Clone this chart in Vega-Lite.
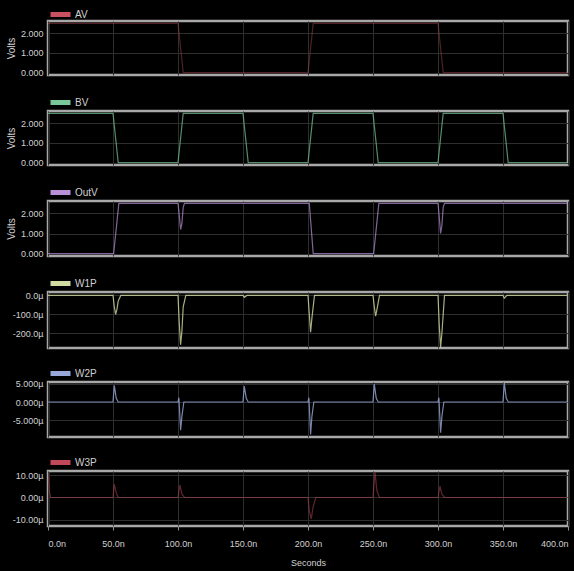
{
  "$schema": "https://vega.github.io/schema/vega-lite/v6.json",
  "background": "black",
  "padding": {"left": 5, "top": 0, "right": 5, "bottom": 4},
  "datasets": {
    "sig": [
      {"sig":"AV","t":0,"v":2.5},{"sig":"AV","t":100,"v":2.5},{"sig":"AV","t":104,"v":0},{"sig":"AV","t":200,"v":0},{"sig":"AV","t":204,"v":2.5},{"sig":"AV","t":300,"v":2.5},{"sig":"AV","t":304,"v":0},{"sig":"AV","t":400,"v":0},
      {"sig":"BV","t":0,"v":2.5},{"sig":"BV","t":50,"v":2.5},{"sig":"BV","t":54,"v":0},{"sig":"BV","t":100,"v":0},{"sig":"BV","t":104,"v":2.5},{"sig":"BV","t":150,"v":2.5},{"sig":"BV","t":154,"v":0},{"sig":"BV","t":200,"v":0},{"sig":"BV","t":204,"v":2.5},{"sig":"BV","t":250,"v":2.5},{"sig":"BV","t":254,"v":0},{"sig":"BV","t":300,"v":0},{"sig":"BV","t":304,"v":2.5},{"sig":"BV","t":350,"v":2.5},{"sig":"BV","t":354,"v":0},{"sig":"BV","t":400,"v":0},
      {"sig":"OutV","t":0,"v":0},{"sig":"OutV","t":50.5,"v":0},{"sig":"OutV","t":54.5,"v":2.5},{"sig":"OutV","t":100,"v":2.5},{"sig":"OutV","t":101,"v":1.9},{"sig":"OutV","t":102,"v":1.2},{"sig":"OutV","t":103,"v":1.5},{"sig":"OutV","t":104,"v":2.3},{"sig":"OutV","t":105,"v":2.5},{"sig":"OutV","t":201,"v":2.5},{"sig":"OutV","t":204,"v":0},{"sig":"OutV","t":250.5,"v":0},{"sig":"OutV","t":254.5,"v":2.5},{"sig":"OutV","t":300,"v":2.5},{"sig":"OutV","t":301,"v":1.8},{"sig":"OutV","t":302,"v":1.0},{"sig":"OutV","t":303,"v":1.4},{"sig":"OutV","t":304,"v":2.3},{"sig":"OutV","t":305,"v":2.5},{"sig":"OutV","t":400,"v":2.5},
      {"sig":"W1P","t":0,"v":0},{"sig":"W1P","t":50,"v":0},{"sig":"W1P","t":51,"v":-60},{"sig":"W1P","t":52,"v":-100},{"sig":"W1P","t":53,"v":-75},{"sig":"W1P","t":54,"v":-30},{"sig":"W1P","t":56,"v":0},{"sig":"W1P","t":100,"v":0},{"sig":"W1P","t":101,"v":-150},{"sig":"W1P","t":102,"v":-260},{"sig":"W1P","t":103,"v":-190},{"sig":"W1P","t":104,"v":-60},{"sig":"W1P","t":106,"v":0},{"sig":"W1P","t":150,"v":0},{"sig":"W1P","t":151,"v":-10},{"sig":"W1P","t":153,"v":0},{"sig":"W1P","t":200,"v":0},{"sig":"W1P","t":201,"v":-100},{"sig":"W1P","t":202,"v":-195},{"sig":"W1P","t":203,"v":-120},{"sig":"W1P","t":205,"v":0},{"sig":"W1P","t":250,"v":0},{"sig":"W1P","t":251,"v":-60},{"sig":"W1P","t":252,"v":-110},{"sig":"W1P","t":253,"v":-75},{"sig":"W1P","t":255,"v":0},{"sig":"W1P","t":300,"v":0},{"sig":"W1P","t":301,"v":-160},{"sig":"W1P","t":302,"v":-275},{"sig":"W1P","t":303,"v":-200},{"sig":"W1P","t":305,"v":0},{"sig":"W1P","t":350,"v":0},{"sig":"W1P","t":351,"v":-15},{"sig":"W1P","t":353,"v":0},{"sig":"W1P","t":400,"v":0},
      {"sig":"W2P","t":0,"v":0},{"sig":"W2P","t":50,"v":0},{"sig":"W2P","t":51,"v":4.6},{"sig":"W2P","t":52.5,"v":1},{"sig":"W2P","t":54,"v":0},{"sig":"W2P","t":100,"v":0},{"sig":"W2P","t":100.7,"v":1.2},{"sig":"W2P","t":102,"v":-7.8},{"sig":"W2P","t":103,"v":-4},{"sig":"W2P","t":104.5,"v":0},{"sig":"W2P","t":150,"v":0},{"sig":"W2P","t":151,"v":4.4},{"sig":"W2P","t":152.5,"v":1},{"sig":"W2P","t":154,"v":0},{"sig":"W2P","t":200,"v":0},{"sig":"W2P","t":200.7,"v":1.2},{"sig":"W2P","t":202,"v":-9},{"sig":"W2P","t":203,"v":-4},{"sig":"W2P","t":204.5,"v":0},{"sig":"W2P","t":250,"v":0},{"sig":"W2P","t":251,"v":5},{"sig":"W2P","t":252.5,"v":1},{"sig":"W2P","t":254,"v":0},{"sig":"W2P","t":300,"v":0},{"sig":"W2P","t":300.7,"v":1.2},{"sig":"W2P","t":302,"v":-8.5},{"sig":"W2P","t":303,"v":-4},{"sig":"W2P","t":304.5,"v":0},{"sig":"W2P","t":350,"v":0},{"sig":"W2P","t":351,"v":5.3},{"sig":"W2P","t":352.5,"v":1},{"sig":"W2P","t":354,"v":0},{"sig":"W2P","t":400,"v":0},
      {"sig":"W3P","t":0,"v":11},{"sig":"W3P","t":1,"v":3},{"sig":"W3P","t":2,"v":0},{"sig":"W3P","t":50,"v":0},{"sig":"W3P","t":51,"v":6},{"sig":"W3P","t":52.5,"v":2},{"sig":"W3P","t":54,"v":0},{"sig":"W3P","t":100,"v":0},{"sig":"W3P","t":101.5,"v":5.5},{"sig":"W3P","t":103,"v":1.5},{"sig":"W3P","t":105,"v":0},{"sig":"W3P","t":200,"v":0},{"sig":"W3P","t":201,"v":-6},{"sig":"W3P","t":202.5,"v":-9.5},{"sig":"W3P","t":204,"v":-4},{"sig":"W3P","t":206,"v":0},{"sig":"W3P","t":250,"v":0},{"sig":"W3P","t":251.5,"v":11.5},{"sig":"W3P","t":253,"v":3},{"sig":"W3P","t":255,"v":0},{"sig":"W3P","t":300,"v":0},{"sig":"W3P","t":301.5,"v":5},{"sig":"W3P","t":303,"v":1.5},{"sig":"W3P","t":305,"v":0},{"sig":"W3P","t":400,"v":0}
    ]
  },
  "data": {"name": "sig"},
  "resolve": {"scale": {"color": "independent", "y": "independent", "x": "independent"}, "legend": {"color": "independent"}},
  "vconcat": [
    {
      "width": 520, "height": 54,
      "transform": [{"filter": "datum.sig === 'AV'"}],
      "mark": {"type": "line", "strokeWidth": 1.2, "opacity": 0.4, "clip": true},
      "encoding": {
        "x": {"field": "t", "type": "quantitative", "scale": {"domain": [0, 400], "nice": false}, "axis": {"values": [0,50,100,150,200,250,300,350,400], "labels": false, "title": null}},
        "y": {"field": "v", "type": "quantitative", "scale": {"domain": [-0.12, 2.62], "nice": false, "zero": false}, "axis": {"values": [0,1,2], "labelExpr": "format(datum.value,'.3f')", "title": "Volts"}},
        "color": {"field": "sig", "type": "nominal", "scale": {"domain": ["AV"], "range": ["#c85060"]}, "legend": {"title": null, "offset": -4}}
      }
    },
    {
      "width": 520, "height": 54,
      "transform": [{"filter": "datum.sig === 'BV'"}],
      "mark": {"type": "line", "strokeWidth": 1.2, "opacity": 0.7, "clip": true},
      "encoding": {
        "x": {"field": "t", "type": "quantitative", "scale": {"domain": [0, 400], "nice": false}, "axis": {"values": [0,50,100,150,200,250,300,350,400], "labels": false, "title": null}},
        "y": {"field": "v", "type": "quantitative", "scale": {"domain": [-0.12, 2.62], "nice": false, "zero": false}, "axis": {"values": [0,1,2], "labelExpr": "format(datum.value,'.3f')", "title": "Volts"}},
        "color": {"field": "sig", "type": "nominal", "scale": {"domain": ["BV"], "range": ["#78c89a"]}, "legend": {"title": null}}
      }
    },
    {
      "width": 520, "height": 55,
      "transform": [{"filter": "datum.sig === 'OutV'"}],
      "mark": {"type": "line", "strokeWidth": 1.2, "opacity": 0.7, "clip": true},
      "encoding": {
        "x": {"field": "t", "type": "quantitative", "scale": {"domain": [0, 400], "nice": false}, "axis": {"values": [0,50,100,150,200,250,300,350,400], "labels": false, "title": null}},
        "y": {"field": "v", "type": "quantitative", "scale": {"domain": [-0.12, 2.62], "nice": false, "zero": false}, "axis": {"values": [0,1,2], "labelExpr": "format(datum.value,'.3f')", "title": "Volts"}},
        "color": {"field": "sig", "type": "nominal", "scale": {"domain": ["OutV"], "range": ["#b890d8"]}, "legend": {"title": null}}
      }
    },
    {
      "width": 520, "height": 56,
      "transform": [{"filter": "datum.sig === 'W1P'"}],
      "mark": {"type": "line", "strokeWidth": 1.2, "opacity": 0.8, "clip": true},
      "encoding": {
        "x": {"field": "t", "type": "quantitative", "scale": {"domain": [0, 400], "nice": false}, "axis": {"values": [0,50,100,150,200,250,300,350,400], "labels": false, "title": null}},
        "y": {"field": "v", "type": "quantitative", "scale": {"domain": [-278, 18], "nice": false, "zero": false}, "axis": {"values": [0,-100,-200], "labelExpr": "replace(format(datum.value,'.1f'),'−','-') + 'µ'", "title": null}},
        "color": {"field": "sig", "type": "nominal", "scale": {"domain": ["W1P"], "range": ["#d0dca0"]}, "legend": {"title": null}}
      }
    },
    {
      "width": 520, "height": 55,
      "transform": [{"filter": "datum.sig === 'W2P'"}],
      "mark": {"type": "line", "strokeWidth": 1.2, "opacity": 0.8, "clip": true},
      "encoding": {
        "x": {"field": "t", "type": "quantitative", "scale": {"domain": [0, 400], "nice": false}, "axis": {"values": [0,50,100,150,200,250,300,350,400], "labels": false, "title": null}},
        "y": {"field": "v", "type": "quantitative", "scale": {"domain": [-9.7, 5.55], "nice": false, "zero": false}, "axis": {"values": [5,0,-5], "labelExpr": "replace(format(datum.value,'.3f'),'−','-') + 'µ'", "title": null}},
        "color": {"field": "sig", "type": "nominal", "scale": {"domain": ["W2P"], "range": ["#98a8d8"]}, "legend": {"title": null}}
      }
    },
    {
      "width": 520, "height": 55,
      "transform": [{"filter": "datum.sig === 'W3P'"}],
      "mark": {"type": "line", "strokeWidth": 1.2, "opacity": 0.5, "clip": true},
      "encoding": {
        "x": {"field": "t", "type": "quantitative", "scale": {"domain": [0, 400], "nice": false}, "axis": {"values": [0,50,100,150,200,250,300,350,400], "labelExpr": "format(datum.value,'.1f') + 'n'", "ticks": true, "tickSize": 4, "tickColor": "#909090", "labelPadding": 9, "labelFontSize": 9, "title": "Seconds", "titlePadding": 10, "titleFontSize": 9}},
        "y": {"field": "v", "type": "quantitative", "scale": {"domain": [-12.7, 11.8], "nice": false, "zero": false}, "axis": {"values": [10,0,-10], "labelExpr": "replace(format(datum.value,'.2f'),'−','-') + 'µ'", "title": null}},
        "color": {"field": "sig", "type": "nominal", "scale": {"domain": ["W3P"], "range": ["#c04858"]}, "legend": {"title": null}}
      }
    }
  ],
  "config": {
    "font": "Liberation Sans",
    "concat": {"spacing": 9},
    "view": {"stroke": "#a8a8a8", "strokeWidth": 2.5, "fill": "black"},
    "axis": {"gridColor": "#2e2e2e", "gridWidth": 1, "labelColor": "#d0d0d0", "labelFontSize": 9, "titleColor": "#d0d0d0", "titleFontSize": 10, "titleFontWeight": "normal", "domain": false, "ticks": false, "labelPadding": 5},
    "legend": {"orient": "top", "symbolType": "stroke", "symbolStrokeWidth": 5, "symbolSize": 400, "symbolOpacity": 1, "labelColor": "#d0d0d0", "labelFontSize": 10, "labelOffset": 2, "padding": 0, "offset": -2}
  }
}
